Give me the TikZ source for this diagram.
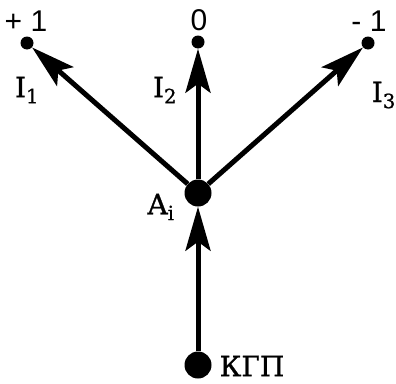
\documentclass[tikz,border=0pt]{standalone}
\usepackage{fontspec}
\setmainfont{DejaVu Serif}
\newfontfamily\labserif[FakeBold=1]{DejaVu Serif}
\newfontfamily\labsans{Liberation Sans}
\usetikzlibrary{arrows.meta}
\tikzset{
  bigdot/.style={circle,fill=black,inner sep=0pt,minimum size=27pt},
  smalldot/.style={circle,fill=black,inner sep=0pt,minimum size=13pt},
  arr/.style={line width=5pt,-{Stealth[length=44pt,width=25pt,inset=9pt]}},
  lab/.style={inner sep=0pt,font=\labserif\fontsize{28}{32}\selectfont},
  num/.style={inner sep=0pt,font=\labsans\fontsize{30}{34}\selectfont}
}
\begin{document}
\begin{tikzpicture}[x=1pt,y=-1pt]
\useasboundingbox (0,0) rectangle (396,383);
\node[smalldot] (p1) at (27,43) {};
\node[smalldot] (p0) at (198,42) {};
\node[smalldot] (m1) at (368,43) {};
\node[bigdot] (A) at (198,193) {};
\node[bigdot] (K) at (198,365) {};
\node[num] (t1) at (26,21) {+ 1};
\node[num] (t0) at (199,20) {0};
\node[num] (t2) at (369,21) {- 1};
\node[lab] (l1) at (27,90) {I\textsubscript{1}};
\node[lab] (l2) at (165,90) {I\textsubscript{2}};
\node[lab,anchor=east] (l3) at (396,95) {I\textsubscript{3}};
\node[lab] (la) at (161,207) {A\textsubscript{i}};
\node[lab] (lk) at (252,366) {КГП};
\draw[arr] (A) -- (p1);
\draw[arr] (A) -- (p0);
\draw[arr] (A) -- (m1);
\draw[arr] (K) -- (A);
\end{tikzpicture}
\end{document}
